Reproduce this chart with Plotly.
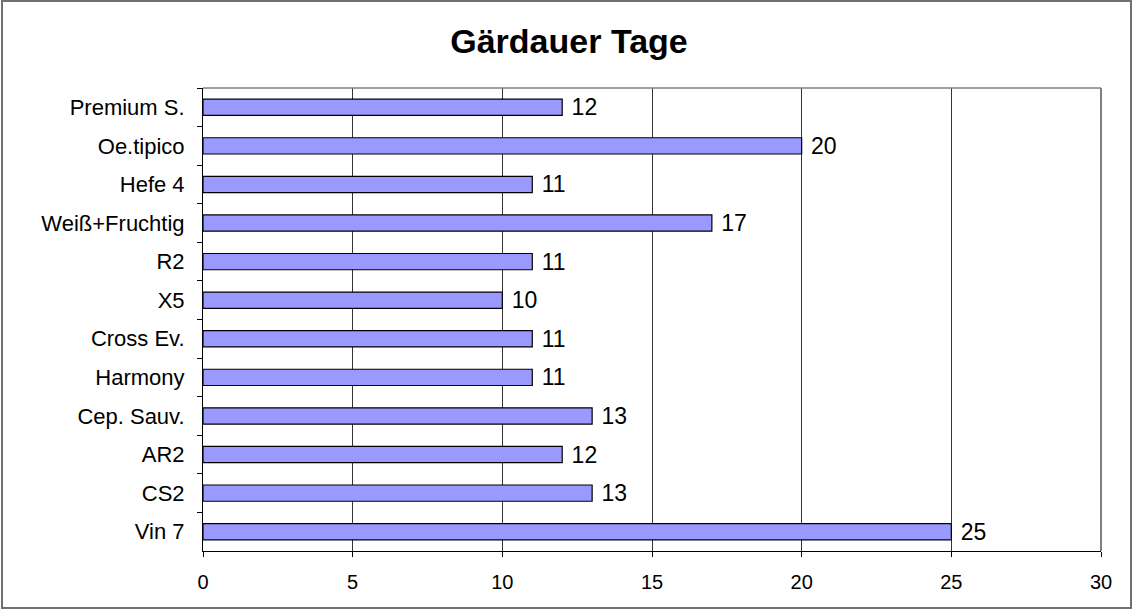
import plotly.graph_objects as go

categories = ["Premium S.", "Oe.tipico", "Hefe 4", "Weiß+Fruchtig", "R2", "X5",
              "Cross Ev.", "Harmony", "Cep. Sauv.", "AR2", "CS2", "Vin 7"]
values = [12, 20, 11, 17, 11, 10, 11, 11, 13, 12, 13, 25]
x_ticks = [0, 5, 10, 15, 20, 25, 30]
title_text = "Gärdauer Tage"

W, H = 1133, 610
L, R, T, B = 203, 1101, 88, 551
pw, ph = R - L, B - T
FONT = "Liberation Sans, Arial"

fig = go.Figure(go.Bar(
    x=values, y=categories, orientation="h",
    marker=dict(color="#9999FF", line=dict(color="#000000", width=1.2)),
    text=[f"\u00a0{v}" for v in values], textposition="outside",
    constraintext="none",
    textfont=dict(family=FONT, size=23, color="#000000"),
    cliponaxis=False, hoverinfo="skip",
))

fig.update_layout(
    width=W, height=H,
    margin=dict(l=L, r=W - R, t=T, b=H - B, pad=0),
    paper_bgcolor="#ffffff", plot_bgcolor="#ffffff",
    bargap=0.58, showlegend=False,
    title=dict(text=f"<b>{title_text}</b>", x=569 / W, xanchor="center",
               y=1 - 41 / H, yanchor="middle",
               font=dict(family=FONT, size=34, color="#000000")),
    font=dict(family=FONT, color="#000000"),
)

fig.update_xaxes(
    range=[0, 30], tickvals=x_ticks, ticktext=[str(t) for t in x_ticks],
    showgrid=True, gridcolor="#333333", gridwidth=1,
    showline=True, linecolor="#000000", linewidth=1,
    ticks="outside", ticklen=5, tickcolor="#000000",
    tickfont=dict(size=20, family=FONT),
    ticklabelstandoff=8, zeroline=False, fixedrange=True,
)
fig.update_yaxes(
    autorange="reversed", type="category",
    showline=True, linecolor="#000000", linewidth=1,
    ticks="outside", ticklen=5, tickcolor="#000000", tickson="boundaries",
    tickfont=dict(size=22, family=FONT),
    ticklabelstandoff=13, showgrid=False, fixedrange=True,
)

# plot area top/right border (gray) and outer chart border
fig.add_shape(type="line", xref="paper", yref="paper", x0=0, x1=1, y0=1, y1=1,
              line=dict(color="#808080", width=1.5))
fig.add_shape(type="line", xref="paper", yref="paper", x0=1, x1=1, y0=0, y1=1,
              line=dict(color="#808080", width=2))
fig.add_shape(type="rect", xref="paper", yref="paper",
              x0=(2 - L) / pw, x1=(1131 - L) / pw,
              y0=(B - 608) / ph, y1=(B - 1) / ph,
              line=dict(color="#707070", width=2), layer="below")

fig.write_html("out.html", config={"displayModeBar": False},
               post_script="document.body.style.margin='0';")
